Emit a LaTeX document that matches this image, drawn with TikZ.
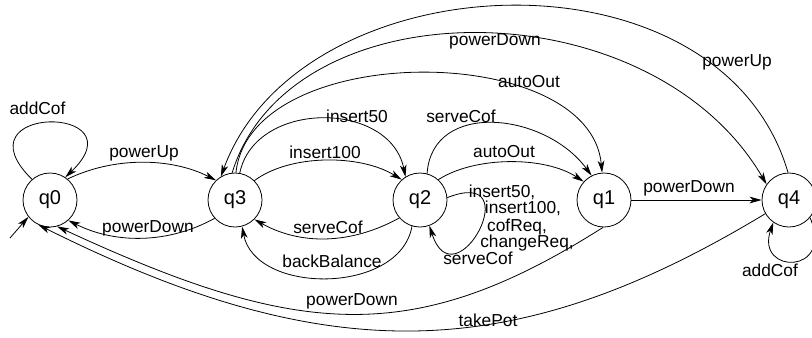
\documentclass[tikz,border=0pt]{standalone}
\usepackage{fontspec}
\setmainfont{Liberation Sans}
\usetikzlibrary{arrows.meta}
\begin{document}
\begin{tikzpicture}[x=0.75pt,y=-0.75pt,
  state/.style={draw, circle, minimum size=40.5pt, inner sep=0pt,
                font=\fontsize{15}{18}\selectfont, line width=0.6pt},
  lbl/.style={inner sep=0pt, font=\fontsize{13}{15}\selectfont},
  tr/.style={-{Stealth[length=9pt,width=5pt,inset=2.5pt]}, line width=0.6pt},
]
\useasboundingbox (0,0) rectangle (812,337);

% states
\node[state] (q0) at (50,200)  {q0};
\node[state] (q3) at (235,200) {q3};
\node[state] (q2) at (420,200) {q2};
\node[state] (q1) at (604,200) {q1};
\node[state] (q4) at (789,200) {q4};

% initial arrow
\coordinate (init) at (10,238);
\draw[tr] (init) -- (q0.218);

% q0
\draw[tr] (q0.131) .. controls (-45,104) and (142,104) .. (q0.56);
\node[lbl] (l0) at (37.5,108) {addCof};
\draw[tr] (q0.50) .. controls (113,157) and (170,157) .. (q3.134);
\node[lbl] (l1) at (144,153) {powerUp};
\draw[tr] (q3.222) .. controls (168,244) and (115,244) .. (q0.312);
\node[lbl] (l2) at (148,228) {powerDown};

% q3 -> q2
\draw[tr] (q3.80) .. controls (255,100) and (390,100) .. (q2.122);
\node[lbl] (l3) at (357,116) {insert50};
\draw[tr] (q3.45) .. controls (290,154) and (360,154) .. (q2.132);
\node[lbl] (l4) at (325,152) {insert100};

% q2 -> q3
\draw[tr] (q2.221) .. controls (350,245) and (300,245) .. (q3.315);
\node[lbl] (l5) at (328,227) {serveCof};
\draw[tr] (q2.253) .. controls (400,295) and (255,295) .. (q3.285);
\node[lbl] (l6) at (332,261) {backBalance};

% -> q1
\draw[tr] (q3.88) .. controls (250,40) and (590,40) .. (q1.94);
\node[lbl] (l7) at (529,82) {autoOut};
\draw[tr] (q2.75) .. controls (432,100) and (545,112) .. (q1.117);
\node[lbl] (l8) at (461,116) {serveCof};
\draw[tr] (q2.48) .. controls (475,156) and (545,156) .. (q1.138);
\node[lbl] (l9) at (504,152) {autoOut};

% q3 <-> q4
\draw[tr] (q4.92) .. controls (720,-60) and (300,-40) .. (q3.121);
\node[lbl] (l10) at (737,62) {powerUp};
\draw[tr] (q3.96) .. controls (290,-15) and (650,-15) .. (q4.145);
\node[lbl] (l11) at (495,41) {powerDown};

% q1 -> q4
\draw[tr] (q1) -- (q4);
\node[lbl] (l12) at (689,188) {powerDown};

% q4 loop
\draw[tr] (q4.-40) .. controls (835,275) and (755,275) .. (q4.235);
\node[lbl] (l13) at (770,270) {addCof};

% q2 loop
\draw[tr] (q2.5) .. controls (530,165) and (455,305) .. (q2.290);
\node[lbl] (l14a) at (502,192) {insert50,};
\node[lbl] (l14b) at (523,208) {insert100,};
\node[lbl] (l14c) at (517,227) {cofReq,};
\node[lbl] (l14d) at (527,243) {changeReq,};
\node[lbl] (l14e) at (478,258) {serveCof};

% back to q0
\draw[tr] (q1.268) .. controls (413,348) and (298,338) .. (q0.285);
\node[lbl] (l15) at (352,301) {powerDown};
\draw[tr] (q4.210) .. controls (515,365) and (329,370) .. (q0.245);
\node[lbl] (l16) at (488,320) {takePot};
\end{tikzpicture}
\end{document}
